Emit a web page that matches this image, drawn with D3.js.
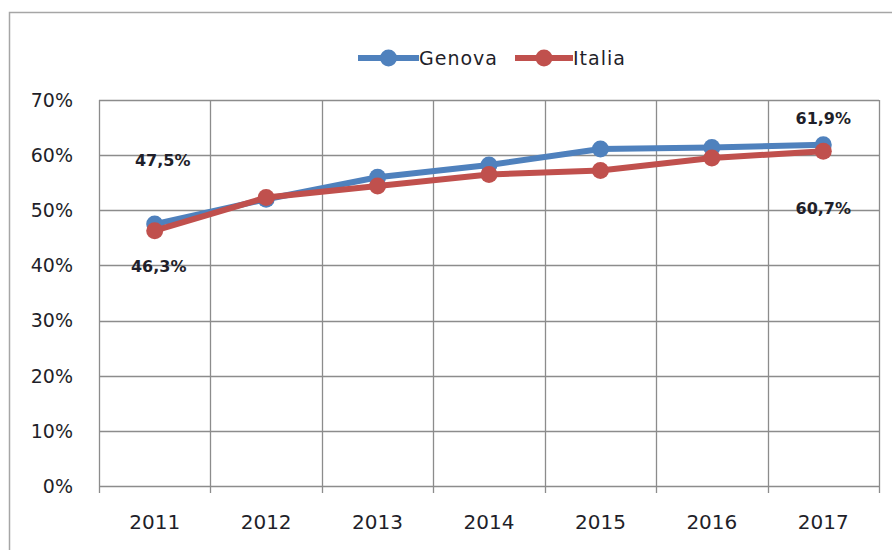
<!DOCTYPE html>
<html>
<head>
<meta charset="utf-8">
<script src="https://cdn.jsdelivr.net/npm/d3@7"></script>
<style>
  body { margin: 0; background: #fff; }
  svg { display: block; font-family: "DejaVu Sans", Verdana, sans-serif; }
</style>
</head>
<body>
<div id="chart"></div>
<script>
// data
var years = ["2011", "2012", "2013", "2014", "2015", "2016", "2017"];
var genova = [47.5, 52.0, 56.0, 58.2, 61.1, 61.4, 61.9];
var italia = [46.3, 52.3, 54.4, 56.5, 57.2, 59.5, 60.7];
var yTicks = [0, 10, 20, 30, 40, 50, 60, 70];
var seriesNames = ["Genova", "Italia"];
var seriesColors = ["#4F81BD", "#C0504D"];

var W = 892, H = 550;
var margin = { top: 100, right: 13, bottom: 64, left: 99 };
var width = W - margin.left - margin.right;
var height = H - margin.top - margin.bottom;

var svg = d3.select("#chart").append("svg")
    .attr("width", W)
    .attr("height", H);

// outer frame (runs off the right and bottom)
svg.append("rect")
    .attr("x", 9.5).attr("y", 12.5)
    .attr("width", W).attr("height", H)
    .attr("fill", "none")
    .attr("stroke", "#a6a6a6")
    .attr("stroke-width", 1.5);

var g = svg.append("g")
    .attr("transform", "translate(" + margin.left + "," + margin.top + ")");

var x = d3.scaleBand().domain(years).range([0, width]);
var y = d3.scaleLinear().domain([0, 70]).range([height, 0]);

// horizontal grid
g.append("g")
    .selectAll("line")
    .data(yTicks)
    .enter().append("line")
    .attr("x1", 0).attr("x2", width)
    .attr("y1", function (d) { return Math.round(y(d)) + 0.5; })
    .attr("y2", function (d) { return Math.round(y(d)) + 0.5; })
    .attr("stroke", "#8c8c8c")
    .attr("stroke-width", 1.3);

// vertical grid (category boundaries) with ticks below the axis
var bounds = years.map(function (d) { return x(d); }).concat([width]);
g.append("g")
    .selectAll("line")
    .data(bounds)
    .enter().append("line")
    .attr("x1", function (d) { return Math.round(d) + 0.5; })
    .attr("x2", function (d) { return Math.round(d) + 0.5; })
    .attr("y1", 0).attr("y2", height + 7)
    .attr("stroke", "#8c8c8c")
    .attr("stroke-width", 1.3);

// y axis labels
g.append("g")
    .selectAll("text")
    .data(yTicks)
    .enter().append("text")
    .attr("x", -26)
    .attr("y", function (d) { return y(d); })
    .attr("dy", "0.36em")
    .attr("text-anchor", "end")
    .attr("font-size", 19)
    .attr("fill", "#1f1f2a")
    .text(function (d) { return d + "%"; });

// x axis labels
g.append("g")
    .selectAll("text")
    .data(years)
    .enter().append("text")
    .attr("x", function (d) { return x(d) + x.bandwidth() / 2; })
    .attr("y", height + 43)
    .attr("text-anchor", "middle")
    .attr("font-size", 20)
    .attr("fill", "#1f1f2a")
    .text(function (d) { return d; });

var line = d3.line()
    .x(function (d, i) { return x(years[i]) + x.bandwidth() / 2; })
    .y(function (d) { return y(d); });

[genova, italia].forEach(function (vals, k) {
    g.append("path")
        .datum(vals)
        .attr("d", line)
        .attr("fill", "none")
        .attr("stroke", seriesColors[k])
        .attr("stroke-width", 6)
        .attr("stroke-linejoin", "round");
    g.append("g")
        .selectAll("circle")
        .data(vals)
        .enter().append("circle")
        .attr("cx", function (d, i) { return x(years[i]) + x.bandwidth() / 2; })
        .attr("cy", function (d) { return y(d); })
        .attr("r", 8.5)
        .attr("fill", seriesColors[k]);
});

// data labels on first and last points
var fmt = function (v) { return v.toFixed(1).replace(".", ",") + "%"; };
var labels = [
    { v: genova[0], i: 0, dx: 8, dy: -64 },
    { v: italia[0], i: 0, dx: 4, dy: 36 },
    { v: genova[6], i: 6, dx: 0, dy: -26 },
    { v: italia[6], i: 6, dx: 0, dy: 57 }
];
g.append("g")
    .selectAll("text")
    .data(labels)
    .enter().append("text")
    .attr("x", function (d) { return x(years[d.i]) + x.bandwidth() / 2 + d.dx; })
    .attr("y", function (d) { return y(d.v) + d.dy; })
    .attr("dy", "0.36em")
    .attr("text-anchor", "middle")
    .attr("font-size", 16)
    .attr("font-weight", "bold")
    .attr("fill", "#1f1f2a")
    .text(function (d) { return fmt(d.v); });

// legend
var legendItems = [
    { x0: 358, x1: 419 },
    { x0: 515, x1: 573 }
];
var legend = svg.append("g");
legendItems.forEach(function (it, k) {
    var lg = legend.append("g");
    lg.append("line")
        .attr("x1", it.x0).attr("x2", it.x1)
        .attr("y1", 58).attr("y2", 58)
        .attr("stroke", seriesColors[k])
        .attr("stroke-width", 6);
    lg.append("circle")
        .attr("cx", (it.x0 + it.x1) / 2).attr("cy", 58)
        .attr("r", 8.5)
        .attr("fill", seriesColors[k]);
    lg.append("text")
        .attr("x", it.x1)
        .attr("y", 58)
        .attr("dy", "0.36em")
        .attr("font-size", 19)
        .attr("letter-spacing", 1)
        .attr("fill", "#1f1f2a")
        .text(seriesNames[k]);
});
</script>
</body>
</html>
